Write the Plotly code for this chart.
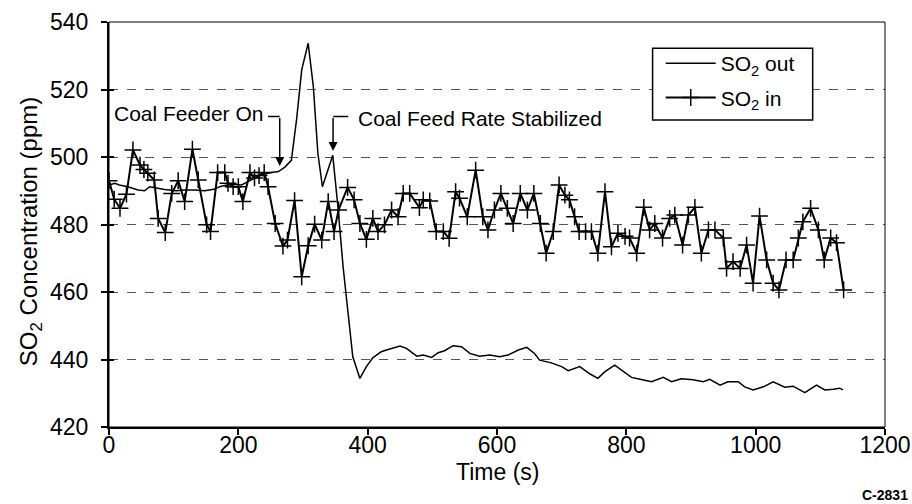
import plotly.graph_objects as go

# ---------------- data ----------------
t_out = [0, 9, 16, 29, 45, 55, 63, 71, 86, 104, 117, 133, 148, 164, 171, 189, 205,
         220, 236, 251, 262, 272, 282, 290, 298, 308, 316, 323, 330, 346, 354, 362,
         370, 377, 388, 398, 408, 421, 429, 437, 450, 460, 476, 486, 499, 509, 519,
         532, 545, 558, 573, 589, 604, 617, 633, 646, 658, 666, 684, 700, 710, 728,
         744, 756, 767, 782, 792, 808, 823, 839, 857, 870, 885, 903, 919, 929, 945,
         957, 973, 983, 996, 1012, 1027, 1045, 1058, 1076, 1094, 1107, 1120, 1130, 1135]
so2_out = [491.7, 492.2, 491.7, 491.2, 490.2, 490.0, 491.2, 490.9, 490.4, 490.0, 490.2,
           490.2, 490.0, 490.5, 491.2, 492.0, 491.7, 493.2, 494.7, 495.4, 495.7, 497.0,
           499.0, 511.0, 525.8, 533.7, 520.8, 501.1, 491.2, 500.5, 485.3, 467.5, 453.7,
           440.8, 434.4, 437.9, 440.5, 442.3, 442.8, 443.3, 444.0, 443.3, 441.0, 441.3,
           440.6, 442.0, 442.6, 444.1, 443.8, 441.8, 441.0, 441.3, 440.8, 441.3, 442.8,
           443.6, 441.8, 439.8, 439.0, 437.9, 436.7, 437.9, 435.7, 434.4, 436.4, 438.3,
           437.0, 434.7, 434.1, 433.4, 434.7, 433.4, 434.3, 434.0, 433.4, 434.1, 432.4,
           433.4, 433.4, 431.9, 431.0, 431.9, 433.4, 431.8, 432.1, 430.2, 432.4, 431.0,
           431.2, 431.5, 431.0]

t_in = [0, 8, 17, 27, 37, 48, 54, 60, 70, 76, 87, 97, 107, 117, 129, 138, 151, 157,
        168, 179, 184, 192, 200, 207, 218, 225, 232, 240, 246, 257, 269, 276, 287, 298,
        308, 318, 329, 339, 348, 355, 369, 379, 388, 398, 408, 416, 426, 437, 447, 455,
        465, 480, 486, 496, 506, 517, 526, 536, 542, 554, 567, 578, 586, 596, 606, 616,
        625, 636, 647, 657, 667, 676, 687, 696, 705, 712, 720, 727, 737, 746, 756, 767,
        777, 787, 798, 805, 816, 827, 836, 844, 856, 867, 875, 887, 896, 906, 916, 927,
        937, 950, 955, 965, 976, 986, 996, 1006, 1017, 1027, 1036, 1047, 1058, 1066,
        1073, 1085, 1097, 1106, 1116, 1125, 1136]
so2_in = [493.0, 487.5, 484.8, 489.0, 502.1, 497.6, 496.3, 495.2, 493.2, 481.8, 477.6,
          489.2, 493.0, 486.8, 502.3, 493.2, 479.9, 477.9, 495.4, 495.4, 492.2, 491.2,
          491.2, 486.8, 495.4, 493.8, 494.5, 495.4, 491.2, 480.3, 473.6, 475.4, 487.1,
          464.5, 473.7, 480.1, 475.4, 486.8, 477.9, 484.3, 491.0, 487.3, 480.3, 475.6,
          481.8, 477.9, 479.9, 484.3, 482.3, 489.2, 489.2, 485.0, 487.3, 487.0, 477.9,
          477.9, 475.9, 489.7, 487.8, 482.3, 496.1, 482.3, 478.4, 484.3, 489.2, 484.8,
          480.3, 489.2, 484.3, 489.2, 480.3, 471.5, 477.9, 491.7, 488.7, 487.3, 482.3,
          477.9, 477.9, 477.9, 471.5, 489.7, 473.4, 477.4, 476.5, 476.0, 471.5, 485.1,
          478.4, 480.3, 476.0, 481.8, 482.8, 473.9, 482.8, 485.1, 471.5, 478.4, 478.4,
          476.0, 467.0, 469.0, 467.0, 473.9, 462.6, 482.5, 469.5, 462.6, 460.6, 469.5,
          469.5, 476.0, 480.8, 484.8, 478.4, 469.5, 476.0, 474.6, 460.6]

x_ticks = [0, 200, 400, 600, 800, 1000, 1200]
y_ticks = [420, 440, 460, 480, 500, 520, 540]

FONT = "Liberation Sans, Arial, Helvetica, sans-serif"

fig = go.Figure()
# SO2 out is drawn on the overlaying (identical-range) axis so that its inside
# tick marks are rendered, giving the crossing tick marks of the reference.
fig.add_trace(go.Scatter(
    x=t_out, y=so2_out, mode="lines", name="SO<sub>2</sub> out", yaxis="y2",
    legendgroup="a", line=dict(color="black", width=1.5)))
fig.add_trace(go.Scatter(
    x=t_in, y=so2_in, mode="lines+markers", name="SO<sub>2</sub> in",
    legendgroup="b", line=dict(color="black", width=2),
    marker=dict(symbol="cross-thin", size=12, color="black",
                line=dict(color="black", width=1.5))))

fig.update_layout(
    width=912, height=504,
    margin=dict(l=109, r=27, t=22, b=77),
    paper_bgcolor="white", plot_bgcolor="white",
    font=dict(family=FONT, size=22, color="black"),
    showlegend=True,
    legend=dict(x=0.711, y=0.948, xanchor="left", yanchor="top",
                bgcolor="rgba(0,0,0,0)", borderwidth=0,
                font=dict(family=FONT, size=21, color="black"),
                itemwidth=50, tracegroupgap=4, traceorder="grouped"),
    xaxis=dict(range=[0, 1200], tickvals=x_ticks, showgrid=False, zeroline=False,
               automargin=False,
               showline=True, linecolor="black", linewidth=2,
               ticks="outside", ticklen=6, tickwidth=1.5, tickcolor="black",
               ticklabelstandoff=-10, tickfont=dict(size=23)),
    yaxis=dict(range=[420, 540], tickvals=y_ticks, showgrid=True,
               automargin=False,
               gridcolor="#555", griddash="dash", gridwidth=1, zeroline=False,
               showline=True, linecolor="black", linewidth=2,
               ticks="outside", ticklen=6, tickwidth=1.5, tickcolor="black",
               ticklabelstandoff=8, tickfont=dict(size=23)),
    yaxis2=dict(range=[420, 540], tickvals=y_ticks, overlaying="y", side="left",
                anchor="x", showgrid=False, zeroline=False, showline=False,
                automargin=False, showticklabels=False,
                ticks="inside", ticklen=5, tickwidth=1.5, tickcolor="black"),
)

# frame
fig.add_shape(type="rect", xref="paper", yref="paper", x0=0, x1=1, y0=0, y1=1,
              line=dict(color="black", width=1))
# legend box
fig.add_shape(type="rect", xref="paper", yref="paper", x0=0.7005, x1=0.9068,
              y0=0.758, y1=0.935, fillcolor="white", layer="above",
              line=dict(color="black", width=1.5))

# brackets for the callouts
fig.add_shape(type="line", xref="x", yref="y", x0=246, x1=264, y0=512, y1=512,
              line=dict(color="black", width=1.5))
fig.add_shape(type="line", xref="x", yref="y", x0=346.5, x1=370, y0=512, y1=512,
              line=dict(color="black", width=1.5))

ann = [
    dict(text="SO<sub>2</sub> Concentration (ppm)", xref="paper", yref="paper",
         x=0, y=0.481, xshift=-79, textangle=-90, showarrow=False,
         xanchor="center", yanchor="middle", font=dict(size=24)),
    dict(text="Time (s)", xref="paper", yref="paper", x=0.5, y=0, yshift=-45,
         showarrow=False, xanchor="center", yanchor="middle", font=dict(size=23)),
    dict(text="<b>C-2831</b>", xref="paper", yref="paper", x=1, y=0, xshift=25,
         yshift=-68, showarrow=False, xanchor="right", yanchor="middle",
         font=dict(size=14)),
    dict(text="Coal Feeder On", xref="x", yref="y", x=242, y=513, showarrow=False,
         xanchor="right", yanchor="middle", font=dict(size=21)),
    dict(text="Coal Feed Rate Stabilized", xref="x", yref="y", x=382, y=511.5,
         showarrow=False, xanchor="left", yanchor="middle", font=dict(size=21)),
    dict(text="", xref="x", yref="y", x=264, y=497.3, axref="x", ayref="y",
         ax=264, ay=512, showarrow=True, arrowhead=2, arrowsize=1.2,
         arrowwidth=1.5, arrowcolor="black", standoff=0),
    dict(text="", xref="x", yref="y", x=346.5, y=501.8, axref="x", ayref="y",
         ax=346.5, ay=512, showarrow=True, arrowhead=2, arrowsize=1.2,
         arrowwidth=1.5, arrowcolor="black", standoff=0),
]
fig.update_layout(annotations=ann)

fig.write_html("out.html")
